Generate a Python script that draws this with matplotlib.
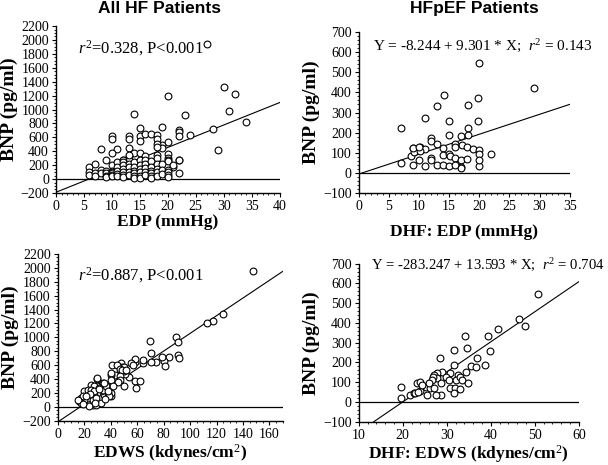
import matplotlib
matplotlib.use("Agg")
import matplotlib.pyplot as plt
import numpy as np

plt.rcParams["font.family"] = ["Liberation Serif", "DejaVu Serif"]
plt.rcParams["mathtext.fontset"] = "custom"
plt.rcParams["mathtext.it"] = "Liberation Serif:italic"
plt.rcParams["mathtext.rm"] = "Liberation Serif"

# All HF patients: EDP (mmHg) vs BNP (pg/ml)
edp_all_x = [27, 30, 32, 31, 34, 20, 14, 23, 28, 29, 24, 22, 22, 22, 19, 15, 15, 16, 17,
             18, 18, 10, 10, 13, 13, 13, 15, 8, 11, 10, 20, 19, 19, 18, 18, 14, 15, 16,
             20, 20, 21, 22, 9, 12, 13, 13,
             6, 6, 6, 7, 7, 7, 8, 8, 9, 9, 9, 9, 10, 10, 10, 10, 10, 10,
             11, 11, 11, 11, 11, 12, 12, 12, 12, 12, 12, 12, 13, 13, 13, 13, 13,
             14, 14, 14, 14, 14, 14, 15, 15, 15, 15, 15, 15, 16, 16, 16, 16, 16,
             17, 17, 17, 17, 17, 17, 18, 18, 18, 18, 18, 18, 19, 19, 19,
             20, 20, 20, 20, 20, 20, 21, 22, 22]
edp_all_y = [1940, 1320, 1225, 985, 823, 1196, 933, 925, 714, 412, 640, 709, 670, 612, 752,
             738, 620, 645, 645, 635, 575, 612, 575, 612, 575, 445, 550, 436, 436, 375,
             540, 495, 440, 507, 455, 375, 375, 335, 355, 305, 180, 280, 280, 280, 330, 280,
             170, 100, 60, 210, 90, 50, 130, 80, 120, 90, 50, 30, 200, 120, 100, 80, 60, 40,
             250, 170, 110, 70, 40, 270, 240, 200, 150, 100, 60, 30, 340, 220, 170, 100, 60,
             250, 180, 120, 80, 40, 10, 270, 200, 150, 100, 50, 20, 280, 220, 160, 100, 60,
             260, 180, 120, 80, 40, 10, 350, 300, 220, 150, 100, 50, 210, 130, 70,
             280, 260, 130, 100, 60, 30, 200, 270, 90]

# HFpEF: EDP vs BNP
edp_pef_x = [14.1, 13.0, 18.1, 11.0, 15.0, 7.0, 20.0, 29.0, 19.8, 19.8, 18.1, 12, 12, 15, 17,
             18.1, 10.1, 9, 11, 13, 14, 16, 16, 17.2, 18, 19, 8.6, 9.1, 10.1, 12, 12, 14,
             15, 15.2, 16, 17, 18, 7, 9, 10, 11, 13, 14, 15, 17, 17, 20, 20, 22, 20, 20,
             9, 10, 16]
edp_pef_y = [387, 332, 336, 271, 259, 224, 545, 420, 370, 258, 221, 174, 160, 188, 183,
             188, 129, 126, 120, 146, 125, 146, 130, 138, 130, 121, 83, 104, 108, 75, 63, 88,
             96, 83, 76, 66, 71, 51, 41, 63, 35, 38, 38, 35, 30, 22, 113, 92, 93, 35, 66,
             123, 128, 38]

# All HF patients: EDWS (kdynes/cm2) vs BNP
edws_all_x = [147.9, 125.1, 117.5, 113, 89, 90.5, 70, 70.8, 84.2, 91, 91.3, 80, 78.6, 81,
              74.6, 70.3, 64.5, 64.5, 58, 58.6, 55, 57, 47.8, 48.8, 40.7, 44.5, 43, 40.4,
              54, 50.5, 50, 49.8, 46.8, 48.8, 51.8, 46.8, 47.3, 45.5, 50, 58, 62, 59.4,
              29.6, 29.6, 40.4,
              30, 40, 40, 34, 37.5, 40, 25, 27.5, 20, 22.5, 17.4, 18.7, 16, 21, 23.8,
              26.3, 28.8, 30, 32.6, 35, 37.7, 32.6, 30, 27.5, 25, 22.5, 20, 26.3, 28.8,
              31.3, 34, 36.4, 35, 25, 27.5, 17.4, 23.8, 18.7, 39, 41.5, 15,
              33, 36, 24, 28, 31, 38, 21, 19]
edws_all_y = [1955, 1338, 1242, 1204, 998, 936, 950, 772, 724, 740, 697, 664, 716, 595,
              652, 643, 633, 676, 648, 686, 638, 605, 638, 580, 605, 605, 452, 460,
              428, 475, 510, 572, 543, 533, 524, 438, 390, 352, 295, 366, 366, 270,
              400, 295, 150,
              413, 485, 390, 342, 270, 198, 318, 294, 222, 246, 126, 102, 78, 54, 78,
              30, 30, 102, 126, 174, 198, 222, 198, 174, 150, 126, 102, 102, 126,
              270, 246, 294, 342, 246, 222, 54, 16, 150, 150, 300, 102,
              60, 110, 190, 60, 260, 230, 160, 40]

# HFpEF: EDWS vs BNP
edws_pef_x = [50.8, 46.5, 47.7, 41.7, 39.4, 34.2, 39.8, 34.5, 31.7, 28.5, 36.9, 35.5, 36.7,
              38.6, 31.7, 34.3, 30.8, 29, 27.8, 27.1, 32.5, 29.8, 30.6, 27.8, 26.9, 26.7,
              32.2, 33, 33.4, 34.8, 30.7, 31.9, 33.1, 31.7, 28.6, 27.5, 25.5, 24, 25.2,
              26.3, 23.2, 24, 24.4, 26, 28.6, 27, 19.5, 19.6, 21.7, 22.5, 22.8, 23.4]
edws_pef_y = [544, 420, 386, 369, 332, 336, 259, 273, 261, 225, 222, 183, 176, 188, 185,
              154, 149, 154, 146, 137, 137, 125, 112, 120, 125, 112, 112, 125, 112, 95,
              73, 73, 66, 44, 36, 36, 36, 56, 78, 70, 95, 103, 86, 95, 95, 70, 75, 22,
              36, 44, 47, 52]

# regression lines as drawn (intercept, slope, x-range)
fit_edp_all = (-190, 32.25, 0, 40)
fit_edp_pef = (-6, 9.9, 0, 35)
fit_edws_all = (-216, 12.73, 1.3, 170)
fit_edws_pef = (-304, 15.21, 13.4, 60)

panels = [
    dict(rect=[0.092, 0.585, 0.368, 0.359], x=edp_all_x, y=edp_all_y, fit=fit_edp_all,
         xlim=(0, 40), ylim=(-200, 2200), xticks=np.arange(0, 41, 5),
         yticks=np.arange(-200, 2201, 200), xlabel="EDP (mmHg)", xpad=1,
         note=r"$r^2$=0.328, P<0.001", note_xy=(0.1, 0.87), note_size=12),
    dict(rect=[0.590, 0.585, 0.347, 0.346], x=edp_pef_x, y=edp_pef_y, fit=fit_edp_pef,
         xlim=(0, 35), ylim=(-100, 700), xticks=np.arange(0, 36, 5),
         yticks=np.arange(-100, 701, 100), xlabel="DHF: EDP (mmHg)", xpad=8,
         note=r"Y = -8.244 + 9.301 * X;  $r^2$ = 0.143", note_xy=(0.07, 0.91), note_size=11),
    dict(rect=[0.095, 0.095, 0.370, 0.359], x=edws_all_x, y=edws_all_y, fit=fit_edws_all,
         xlim=(0, 170), ylim=(-200, 2200), xticks=np.arange(0, 161, 20),
         yticks=np.arange(-200, 2201, 200), xlabel="EDWS (kdynes/cm$^2$)", xpad=1,
         note=r"$r^2$=0.887, P<0.001", note_xy=(0.09, 0.87), note_size=12),
    dict(rect=[0.590, 0.093, 0.362, 0.340], x=edws_pef_x, y=edws_pef_y, fit=fit_edws_pef,
         xlim=(10, 60), ylim=(-100, 700), xticks=np.arange(10, 61, 10),
         yticks=np.arange(-100, 701, 100), xlabel="DHF: EDWS (kdynes/cm$^2$)", xpad=1,
         note=r"Y = -283.247 + 13.593 * X;  $r^2$ = 0.704", note_xy=(0.055, 0.99),
         note_size=10.6),
]

titles = ["All HF Patients", "HFpEF Patients"]
title_x = [0.263, 0.781]

fig = plt.figure(figsize=(6.08, 4.65), dpi=100)

for p in panels:
    ax = fig.add_axes(p["rect"])
    ax.scatter(p["x"], p["y"], s=24, facecolors="white", edgecolors="black",
               linewidths=0.8, zorder=3)
    b0, b1, x0, x1 = p["fit"]
    xs = np.array([x0, x1])
    ax.plot(xs, b0 + b1 * xs, color="black", lw=0.8, zorder=2)
    ax.axhline(0, color="black", lw=0.9, zorder=1)
    ax.set_xlim(p["xlim"])
    ax.set_ylim(p["ylim"])
    ax.set_xticks(p["xticks"])
    ax.set_yticks(p["yticks"])
    ax.minorticks_on()
    ax.tick_params(which="major", direction="out", length=3, width=0.8, labelsize=10, pad=2)
    ax.tick_params(which="minor", direction="out", length=1.5, width=0.6)
    for side in ("top", "right"):
        ax.spines[side].set_visible(False)
    ax.spines["left"].set_linewidth(1.0)
    ax.spines["bottom"].set_linewidth(1.0)
    ax.set_xlabel(p["xlabel"], fontsize=12.5, fontweight="bold", labelpad=p["xpad"])
    ax.set_ylabel("BNP (pg/ml)", fontsize=14, fontweight="bold", labelpad=2)
    ax.text(p["note_xy"][0], p["note_xy"][1], p["note"], transform=ax.transAxes,
            fontsize=p["note_size"], va="center")

for t, tx in zip(titles, title_x):
    fig.text(tx, 0.982, t, ha="center", va="center", fontsize=12.5, fontweight="bold",
             family=["Liberation Sans", "DejaVu Sans"])

fig.savefig("out.png", dpi=100)
